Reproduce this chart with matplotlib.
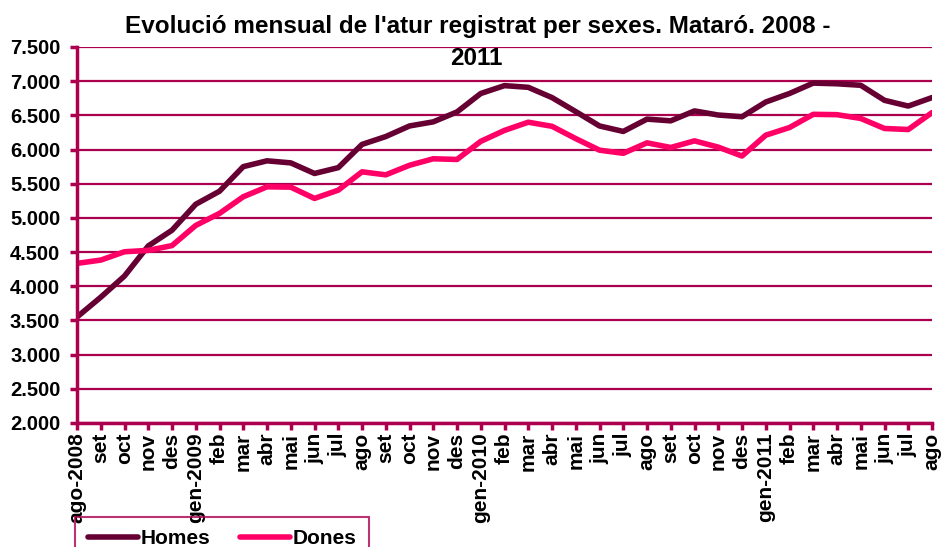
import matplotlib
matplotlib.use("Agg")
import matplotlib.pyplot as plt
from matplotlib.ticker import FuncFormatter

plt.rcParams['font.family'] = ['Liberation Sans', 'DejaVu Sans']

# Etiquetes de mesos
mesos = ["ago-2008", "set", "oct", "nov", "des", "gen-2009", "feb", "mar", "abr", "mai", "jun", "jul",
         "ago", "set", "oct", "nov", "des", "gen-2010", "feb", "mar", "abr", "mai", "jun", "jul",
         "ago", "set", "oct", "nov", "des", "gen-2011", "feb", "mar", "abr", "mai", "jun", "jul", "ago"]

homes = [3550, 3840, 4150, 4590, 4820, 5200, 5390, 5750, 5835, 5805, 5650, 5735,
         6075, 6190, 6345, 6405, 6550, 6820, 6935, 6910, 6760, 6555, 6345, 6265,
         6445, 6420, 6565, 6505, 6480, 6695, 6820, 6972, 6962, 6940, 6720, 6636, 6760]

dones = [4335, 4383, 4505, 4525, 4595, 4890, 5066, 5309, 5455, 5450, 5285, 5406,
         5674, 5630, 5770, 5865, 5855, 6120, 6280, 6400, 6340, 6160, 5991, 5945,
         6098, 6030, 6127, 6035, 5905, 6210, 6322, 6515, 6510, 6455, 6308, 6293, 6540]

eix = "#AC004E"

fig = plt.figure(figsize=(9.42, 5.47), dpi=100)
ax = fig.add_axes([77/942, 1-423/547, (932-77)/942, (423-47)/547])

x = range(len(mesos))
ax.plot(x, homes, color="#660033", lw=4, label="Homes", solid_capstyle="round")
ax.plot(x, dones, color="#FF0066", lw=4, label="Dones", solid_capstyle="round")

ax.set_xlim(0, len(mesos)-1)
ax.set_ylim(2000, 7500)
ax.set_yticks(range(2000, 7501, 500))
ax.yaxis.set_major_formatter(FuncFormatter(lambda v, p: f"{int(v):,}".replace(",", ".")))
ax.grid(axis="y", color=eix, lw=1.6)
ax.set_axisbelow(True)

ax.set_xticks(list(x))
ax.set_xticklabels(mesos, rotation=90, fontsize=15, fontweight="bold")
for t in ax.get_yticklabels():
    t.set_fontweight("bold")
    t.set_fontsize(14.5)

for s in ["top", "right"]:
    ax.spines[s].set_visible(False)
for s in ["left", "bottom"]:
    ax.spines[s].set_color(eix)
    ax.spines[s].set_linewidth(2.5)
ax.tick_params(axis="both", colors=eix, width=2.5, length=5, labelcolor="black")
ax.tick_params(axis="x", pad=2)
ax.tick_params(axis="y", pad=7)

fig.text(478/942, 1-33/547, "Evolució mensual de l'atur registrat per sexes. Mataró. 2008 -",
         ha="center", va="baseline", fontsize=17.5, fontweight="bold")
fig.text(476/942, 1-65/547, "2011",
         ha="center", va="baseline", fontsize=17.5, fontweight="bold")

leg = fig.legend(loc="upper left", bbox_to_anchor=(75/942, 1-517/547), ncol=2,
                 prop={"weight": "bold", "size": 15}, frameon=True, fancybox=False,
                 handlelength=2.4, columnspacing=1.4, handletextpad=0.15, borderpad=0.6,
                 borderaxespad=0)
leg.get_frame().set_edgecolor(eix)
leg.get_frame().set_facecolor("none")
leg.get_frame().set_linewidth(1.5)
for h in leg.get_lines():
    h.set_solid_capstyle("round")

fig.savefig("out.png", dpi=100)
